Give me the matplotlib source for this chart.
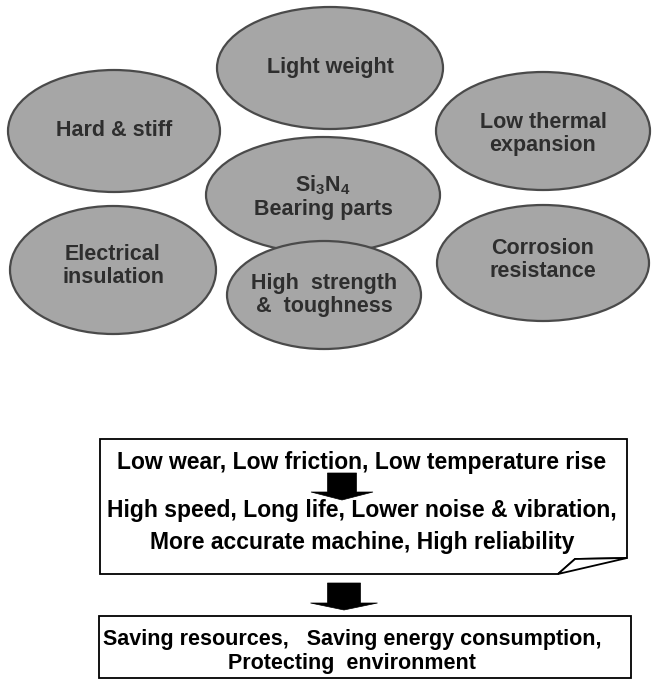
import matplotlib
matplotlib.use("Agg")
import matplotlib.pyplot as plt
from matplotlib.patches import Ellipse, Polygon, Rectangle

plt.rcParams['font.family'] = ['Liberation Sans', 'DejaVu Sans']
plt.rcParams['mathtext.fontset'] = 'custom'
plt.rcParams['mathtext.bf'] = 'Liberation Sans:bold'
plt.rcParams['mathtext.rm'] = 'Liberation Sans:bold'

# ---- content ----
property_labels = ["Light weight", "Hard & stiff", "Low thermal\nexpansion",
                   r"$\mathbf{Si_3N_4}$" + "\nBearing parts", "Electrical\ninsulation",
                   "Corrosion\nresistance", "High  strength\n&  toughness"]
doc_lines = ["Low wear, Low friction, Low temperature rise",
             "High speed, Long life, Lower noise & vibration,",
             "More accurate machine, High reliability"]
outcome_lines = ["Saving resources,   Saving energy consumption,",
                 "Protecting  environment"]

# ---- layout (pixel coordinates) ----
ell_centers = [(330, 68), (114, 131), (543, 131), (323, 195), (113, 270), (543, 263), (324, 295)]
ell_sizes = [(226, 122), (212, 122), (214, 118), (234, 116), (206, 128), (212, 116), (194, 108)]
ell_text_y = [68, 131, 134, 197, 266, 260, 295]
doc_line_y = [462, 511, 543]
outcome_line_y = [640, 663]

fig = plt.figure(figsize=(6.55, 6.82), dpi=100)
ax = fig.add_axes([0, 0, 1, 1])
ax.set_xlim(0, 655)
ax.set_ylim(682, 0)
ax.axis('off')

for (cx, cy), (w, h), ty, lab in zip(ell_centers, ell_sizes, ell_text_y, property_labels):
    ax.add_patch(Ellipse((cx, cy), w, h, facecolor='#a6a6a6', edgecolor='#4a4a4a', lw=1.6))
    ax.text(cx, ty, lab, ha='center', va='center', fontsize=15.5, fontweight='bold',
            color='#2e2e2e', linespacing=1.1)

# document box with folded corner
doc = Polygon([(100, 439), (627, 439), (627, 558), (575, 559), (558, 574), (100, 574)],
              closed=True, facecolor='white', edgecolor='black', lw=1.3)
ax.add_patch(doc)
ax.add_patch(Polygon([(558, 574), (575, 559), (627, 558)], closed=True,
                     facecolor='white', edgecolor='black', lw=1.3))

for txt, y in zip(doc_lines, doc_line_y):
    ax.text(362, y, txt, ha='center', va='center', fontsize=16.5, fontweight='bold')

def down_arrow(xc, ytop, ybot, shaft_w, head_w, head_len):
    pts = [(xc - shaft_w / 2, ytop), (xc + shaft_w / 2, ytop), (xc + shaft_w / 2, ybot - head_len),
           (xc + head_w / 2, ybot - head_len), (xc, ybot), (xc - head_w / 2, ybot - head_len),
           (xc - shaft_w / 2, ybot - head_len)]
    ax.add_patch(Polygon(pts, closed=True, facecolor='black', edgecolor='black', lw=0.5))

down_arrow(342, 473, 500, 29, 62, 8)
down_arrow(344, 583, 610, 33, 67, 7)

# bottom box
ax.add_patch(Rectangle((99, 616), 532, 62, facecolor='white', edgecolor='black', lw=1.3))
for txt, y in zip(outcome_lines, outcome_line_y):
    ax.text(352, y, txt, ha='center', va='center', fontsize=15.5, fontweight='bold')

fig.savefig('out.png', dpi=100)
